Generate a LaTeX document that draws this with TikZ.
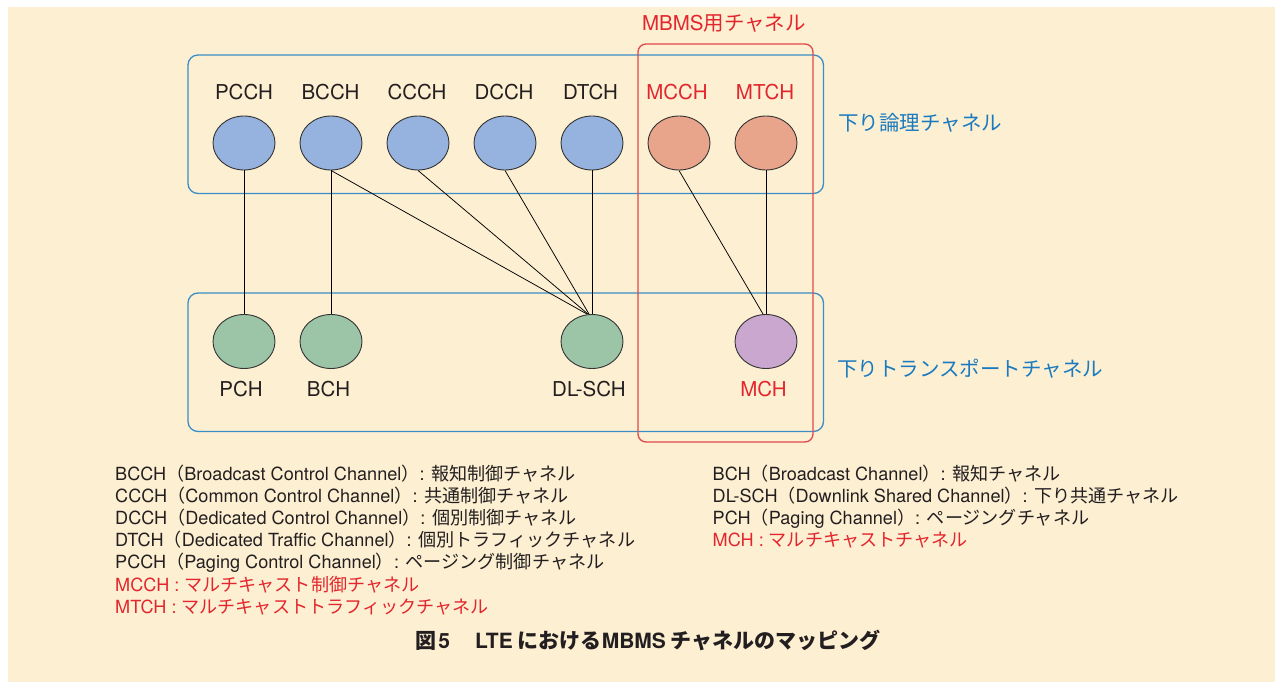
\documentclass[tikz,border=0pt]{standalone}
\usepackage{fontspec}
\setmainfont{TeX Gyre Heros}
\newfontfamily\jp{Noto Sans CJK JP}
\usetikzlibrary{shapes.geometric}

\definecolor{cream}{HTML}{FDEFD2}
\definecolor{ink}{HTML}{231F20}
\definecolor{logicfill}{HTML}{95B3DE}
\definecolor{mbmsfill}{HTML}{E8A58C}
\definecolor{transfill}{HTML}{9CC5A8}
\definecolor{mchfill}{HTML}{C9A7CF}
\definecolor{rimcol}{HTML}{333333}
\definecolor{boxblue}{HTML}{3B8DC7}
\definecolor{textblue}{HTML}{1A7ABF}
\definecolor{mred}{HTML}{E3262D}
\definecolor{boxred}{HTML}{E0484C}

\newcommand\jt[1]{{\jp #1}}

\tikzset{
  chan/.style={ellipse, draw=rimcol, line width=0.9pt, minimum width=62pt,
    minimum height=54pt, inner sep=0pt},
  logical/.style={chan, fill=logicfill},
  mbmslogical/.style={chan, fill=mbmsfill},
  transport/.style={chan, fill=transfill},
  mchnode/.style={chan, fill=mchfill},
  lbl/.style={font=\fontsize{20.5}{24}\selectfont, text=ink, inner sep=0pt, anchor=base},
  redlbl/.style={lbl, text=mred},
  sidelbl/.style={font=\fontsize{20.5}{24}\selectfont\jp, text=textblue, inner sep=0pt, anchor=west},
  link/.style={draw=black, line width=0.75pt},
  groupbox/.style={draw=boxblue, line width=1.3pt, rounded corners=10pt, inner sep=0pt,
    minimum width=635.5pt, minimum height=138.5pt},
  mbmsbox/.style={draw=boxred, line width=1.3pt, rounded corners=8pt, inner sep=0pt,
    minimum width=175pt, minimum height=398pt},
  legend/.style={font=\fontsize{18.1}{22}\selectfont, text=ink, inner sep=0pt, anchor=base west},
  redlegend/.style={legend, text=mred},
}

\begin{document}
\begin{tikzpicture}[x=1pt, y=-1pt]
\useasboundingbox (0,0) rectangle (1275,682);
\fill[cream] (8,7) rectangle (1275,682);

% group frames
\node[groupbox] (logicbox) at (505.75,124.25) {};
\node[groupbox] (transbox) at (505.75,362.25) {};
\node[mbmsbox] (mbmsbox) at (725.5,243) {};

% logical channels
\node[logical] (pcch) at (244,143) {};
\node[logical] (bcch) at (331,143) {};
\node[logical] (ccch) at (418,143) {};
\node[logical] (dcch) at (505,143) {};
\node[logical] (dtch) at (592,143) {};
\node[mbmslogical] (mcch) at (679,143) {};
\node[mbmslogical] (mtch) at (766,143) {};

% transport channels
\node[transport] (pch) at (244,341.5) {};
\node[transport] (bch) at (331,341.5) {};
\node[transport] (dlsch) at (592,341.5) {};
\node[mchnode] (mch) at (766,341.5) {};

% channel names
\node[lbl] (pcchL) at (244,100) {PCCH};
\node[lbl] (bcchL) at (330.5,100) {BCCH};
\node[lbl] (ccchL) at (417,100) {CCCH};
\node[lbl] (dcchL) at (504,100) {DCCH};
\node[lbl] (dtchL) at (590.5,100) {DTCH};
\node[redlbl] (mcchL) at (677,100) {MCCH};
\node[redlbl] (mtchL) at (765,100) {MTCH};
\node[lbl] (pchL) at (241,396.5) {PCH};
\node[lbl] (bchL) at (328.5,396.5) {BCH};
\node[lbl] (dlschL) at (589,396.5) {DL-SCH};
\node[redlbl] (mchL) at (763.5,396.5) {MCH};

% mappings
\draw[link] (pcch.south) -- (pch.north);
\draw[link] (bcch.south) -- (bch.north);
\draw[link] (bcch.south) -- ([xshift=-5pt]dlsch.north);
\draw[link] (ccch.south) -- ([xshift=-4pt]dlsch.north);
\draw[link] (dcch.south) -- ([xshift=-3pt]dlsch.north);
\draw[link] (dtch.south) -- (dlsch.north);
\draw[link] (mcch.south) -- ([xshift=-3pt]mch.north);
\draw[link] (mtch.south) -- (mch.north);

% group titles
\node[font=\fontsize{20.5}{24}\selectfont, text=mred, inner sep=0pt] (mbmsT) at (724,23)
  {MBMS\jt{用チャネル}};
\node[sidelbl] (logicT) at (838,122.5) {下り論理チャネル};
\node[sidelbl] (transT) at (837,368.5) {下りトランスポートチャネル};

% legend, left column
\node[legend] (g1) at (115,480) {BCCH\jt{（}Broadcast Control Channel\jt{）}: \jt{報知制御チャネル}};
\node[legend] (g2) at (115,502.2) {CCCH\jt{（}Common Control Channel\jt{）}: \jt{共通制御チャネル}};
\node[legend] (g3) at (115,524.4) {DCCH\jt{（}Dedicated Control Channel\jt{）}: \jt{個別制御チャネル}};
\node[legend] (g4) at (115,546.7) {DTCH\jt{（}Dedicated Traffic Channel\jt{）}: \jt{個別トラフィックチャネル}};
\node[legend] (g5) at (115,568.9) {PCCH\jt{（}Paging Control Channel\jt{）}: \jt{ページング制御チャネル}};
\node[redlegend] (g6) at (115,591.1) {MCCH : \jt{マルチキャスト制御チャネル}};
\node[redlegend] (g7) at (115,613.3) {MTCH : \jt{マルチキャストトラフィックチャネル}};

% legend, right column
\node[legend] (h1) at (712.5,480) {BCH\jt{（}Broadcast Channel\jt{）}: \jt{報知チャネル}};
\node[legend] (h2) at (712.5,502.2) {DL-SCH\jt{（}Downlink Shared Channel\jt{）}: \jt{下り共通チャネル}};
\node[legend] (h3) at (712.5,524.4) {PCH\jt{（}Paging Channel\jt{）}: \jt{ページングチャネル}};
\node[redlegend] (h4) at (712.5,546.7) {MCH : \jt{マルチキャストチャネル}};

% caption
\node[font=\fontsize{21}{24}\selectfont\bfseries, text=ink, inner sep=0pt, anchor=base] (cap)
  at (648,648) {\jt{図}\hspace{2pt}5\hspace{1.2em}LTE\hspace{5pt}\jt{における}MBMS\hspace{5pt}\jt{チャネルのマッピング}};
\end{tikzpicture}
\end{document}
